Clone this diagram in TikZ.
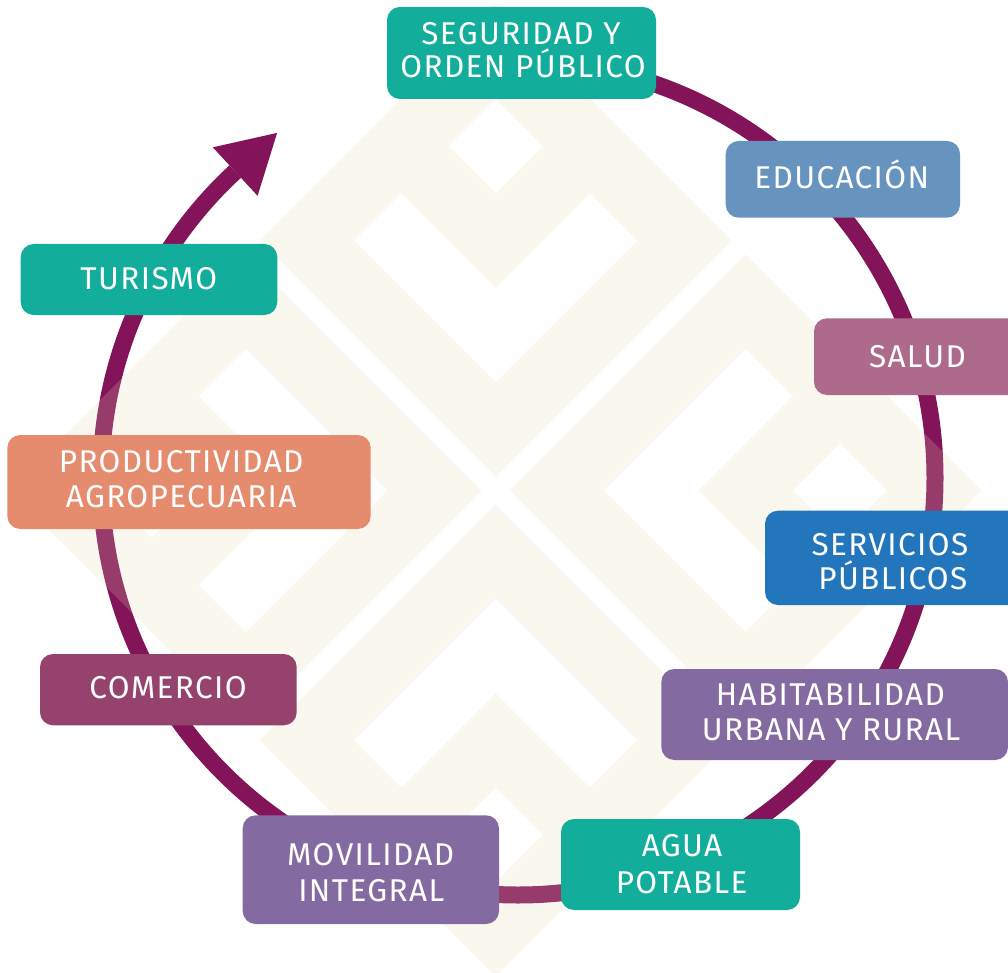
\documentclass[tikz,border=0pt]{standalone}
\usepackage{fontspec}
\setmainfont{Fira Sans}[LetterSpace=4.4]
\usetikzlibrary{calc}
\definecolor{ringc}{RGB}{131,20,90}
\definecolor{patc}{RGB}{230,215,170}
\definecolor{tealc}{RGB}{19,174,155}
\definecolor{educ}{RGB}{103,148,191}
\definecolor{salc}{RGB}{173,106,139}
\definecolor{serc}{RGB}{35,118,188}
\definecolor{purc}{RGB}{131,106,160}
\definecolor{comc}{RGB}{149,67,109}
\definecolor{proc}{RGB}{229,140,111}
\newcommand\lblfont{\fontsize{31.5}{35}\selectfont}
\tikzset{
  boxst/.style={rectangle, rounded corners=13pt, inner sep=0pt, draw=none},
  txt/.style={text=white, font=\lblfont, inner sep=0pt, anchor=base},
  ringst/.style={draw=ringc, line width=17pt},
  patst/.style={fill=patc, fill opacity=0.2, even odd rule},
}
\begin{document}
\begin{tikzpicture}[x=1pt,y=1pt]
\useasboundingbox (0,0) rectangle (1008,-973);
\fill[white] (0,0) rectangle (1008,-973);
% ring with arrow
\coordinate (rc) at (518,-478);
\draw[ringst] ($(rc)+(90:417)$) arc[start angle=90, end angle=-227.3, radius=417] coordinate (ae);
\fill[ringc] ($(ae)+(-227.3:33)$) -- ($(ae)+(-317.3:57)$) -- ($(ae)+(-47.3:33)$) -- cycle;
% background pattern
\foreach \r in {0,90,180,270} {
  \begin{scope}[shift={(495.7,-490.5)}, rotate=\r]
    \fill[patst] (0,14) -- (236,250) -- (0,486) -- (-236,250) -- cycle
      (-141.6,250) -- (-94.4,297.2) -- (0,202.8) -- (94.4,297.2) -- (141.6,250) -- (0,108.4) -- cycle
      (0,297.2) -- (47.2,344.4) -- (0,391.6) -- (-47.2,344.4) -- cycle;
  \end{scope}
}
% boxes
\node[boxst, fill=tealc, minimum width=269pt, minimum height=92pt] (seg) at (521.5,-53) {};
\node[boxst, fill=educ, minimum width=234.3pt, minimum height=76.7pt] (edu) at (842.85,-179.35) {};
\node[boxst, fill=salc, minimum width=207pt, minimum height=76.7pt] (sal) at (917.5,-356.65) {};
\node[boxst, fill=serc, minimum width=265pt, minimum height=94.3pt] (ser) at (897.5,-557.85) {};
\node[boxst, fill=purc, minimum width=346.7pt, minimum height=91pt] (hab) at (834.65,-714.5) {};
\node[boxst, fill=tealc, minimum width=239pt, minimum height=91pt] (agu) at (680.5,-864.5) {};
\node[boxst, fill=purc, minimum width=256.3pt, minimum height=108.7pt] (mov) at (370.85,-869.65) {};
\node[boxst, fill=comc, minimum width=256.7pt, minimum height=71.3pt] (com) at (168.35,-689.65) {};
\node[boxst, fill=proc, minimum width=363.4pt, minimum height=94pt] (pro) at (189,-482) {};
\node[boxst, fill=tealc, minimum width=256.6pt, minimum height=71pt] (tur) at (149,-279.5) {};
% texts
\node[txt] (seg1) at (521,-45) {SEGURIDAD Y};
\node[txt] (seg2) at (523,-77.3) {ORDEN PÚBLICO};
\node[txt] (edu1) at (841.7,-189) {EDUCACIÓN};
\node[txt] (sal1) at (917.5,-367.7) {SALUD};
\node[txt, anchor=base east] (ser1) at (968.4,-555) {SERVICIOS};
\node[txt, anchor=base east] (ser2) at (967.5,-589.3) {PÚBLICOS};
\node[txt] (hab1) at (830.4,-705) {HABITABILIDAD};
\node[txt] (hab2) at (831.1,-740) {URBANA Y RURAL};
\node[txt] (agu1) at (682,-856.7) {AGUA};
\node[txt] (agu2) at (681.7,-893.3) {POTABLE};
\node[txt] (mov1) at (370.7,-865.7) {MOVILIDAD};
\node[txt] (mov2) at (371.3,-901) {INTEGRAL};
\node[txt] (com1) at (168,-698.3) {COMERCIO};
\node[txt] (pro1) at (181.2,-472.3) {PRODUCTIVIDAD};
\node[txt] (pro2) at (181.2,-507.3) {AGROPECUARIA};
\node[txt] (tur1) at (148.8,-289.3) {TURISMO};
\end{tikzpicture}
\end{document}
